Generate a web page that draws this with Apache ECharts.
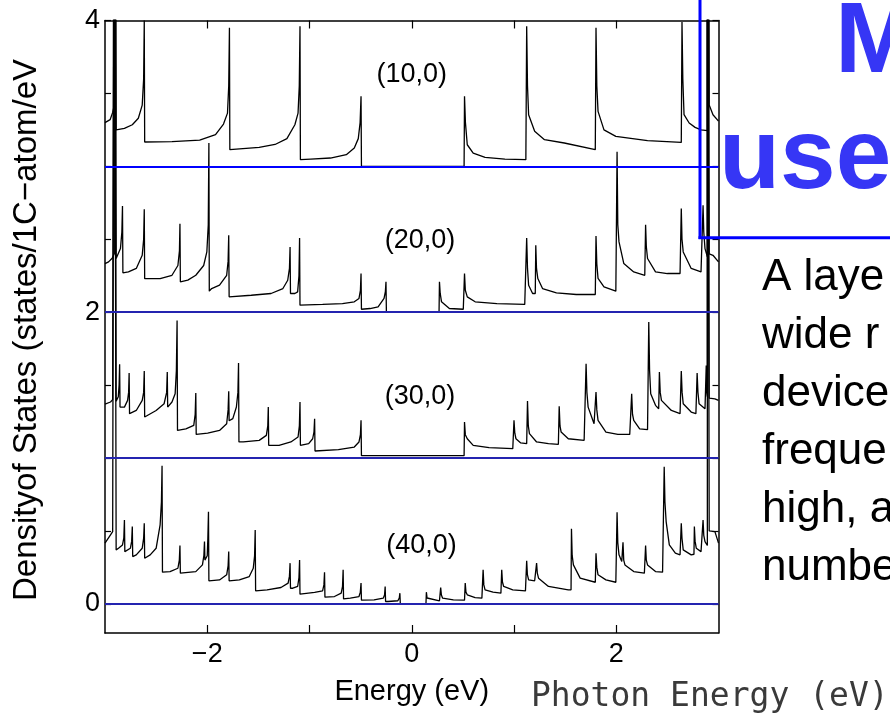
<!DOCTYPE html>
<html><head><meta charset="utf-8">
<script src="https://cdn.jsdelivr.net/npm/echarts@6/dist/echarts.min.js"></script>
<style>html,body{margin:0;padding:0;background:#fff}#c{width:890px;height:721px}</style>
</head><body><div id="c"></div>
<script>
// ---- data (energy eV, density of states per C atom per eV) ----
const tubeNames = ['(10,0)', '(20,0)', '(30,0)', '(40,0)'];
const tubeOffsets = [3, 2, 1, 0];
const baselines = [0, 1, 2, 3];
const xTickLabels = [-2, 0, 2];
const xTicks = [-2, -1, 0, 1, 2];
const yTickLabels = [0, 2, 4];
const yTicks = [0, 0.5, 1, 1.5, 2, 2.5, 3, 3.5, 4];
const labelX = [0.0, 0.08, 0.08, 0.095];
const labelY = [3.63, 2.49, 1.42, 0.40];

const dos10 = [
[-3.0,0.30],[-2.95,0.32],[-2.925,0.37],[-2.909,0.42],[-2.909,6],[-2.891,6],[-2.891,0.25],
[-2.81,0.26],[-2.733,0.285],[-2.674,0.33],[-2.636,0.42],[-2.622,0.6],[-2.616,1.0],[-2.612,0.167],
[-2.345,0.17],[-2.074,0.18],[-1.919,0.217],[-1.841,0.29],[-1.802,0.365],[-1.79,0.55],[-1.783,0.95],[-1.779,0.114],
[-1.492,0.13],[-1.337,0.15],[-1.221,0.19],[-1.143,0.285],[-1.112,0.365],[-1.1,0.55],[-1.093,0.96],[-1.089,0.046],
[-0.988,0.05],[-0.795,0.057],[-0.64,0.08],[-0.562,0.126],[-0.523,0.19],[-0.505,0.3],[-0.496,0.48],[-0.492,0],
[0.512,0],[0.516,0.48],[0.525,0.3],[0.543,0.148],[0.601,0.091],[0.717,0.062],[0.911,0.05],[1.116,0.046],
[1.12,0.046],[1.124,0.96],[1.132,0.55],[1.143,0.354],[1.202,0.24],[1.298,0.183],[1.492,0.16],[1.795,0.114],
[1.798,0.114],[1.802,0.95],[1.81,0.55],[1.822,0.377],[1.88,0.25],[1.996,0.205],[2.306,0.176],[2.636,0.164],
[2.639,0.164],[2.643,0.99],[2.651,0.6],[2.663,0.354],[2.713,0.297],[2.771,0.267],[2.829,0.25],[2.891,0.245],
[2.891,6],[2.909,6],[2.909,0.42],[2.946,0.354],[3.0,0.31]
];

const dos20 = [
[-3.0,0.333],[-2.965,0.345],[-2.93,0.37],[-2.909,0.4],[-2.909,6],[-2.891,6],[-2.891,0.368],[-2.849,0.436],[-2.835,0.55],[-2.829,0.728],[-2.825,0.27],
[-2.771,0.276],[-2.694,0.3],[-2.636,0.39],[-2.622,0.5],[-2.616,0.705],[-2.612,0.23],
[-2.461,0.23],[-2.345,0.253],[-2.287,0.32],[-2.272,0.42],[-2.267,0.607],[-2.263,0.208],
[-2.19,0.22],[-2.112,0.253],[-2.035,0.32],[-2.004,0.413],[-1.99,0.6],[-1.984,1.16],[-1.98,0.144],
[-1.957,0.162],[-1.88,0.185],[-1.81,0.253],[-1.796,0.35],[-1.79,0.527],[-1.786,0.105],
[-1.57,0.116],[-1.376,0.128],[-1.26,0.162],[-1.213,0.219],[-1.196,0.3],[-1.19,0.447],[-1.186,0.128],
[-1.143,0.128],[-1.116,0.139],[-1.103,0.25],[-1.097,0.509],[-1.093,0.048],
[-0.872,0.053],[-0.678,0.059],[-0.562,0.071],[-0.516,0.094],[-0.502,0.15],[-0.496,0.265],[-0.492,0.02],
[-0.407,0.025],[-0.329,0.037],[-0.271,0.094],[-0.258,0.14],[-0.252,0.208],[-0.248,0],
[0.267,0],[0.271,0.208],[0.278,0.13],[0.291,0.071],[0.368,0.025],[0.504,0.02],
[0.512,0.02],[0.516,0.265],[0.524,0.15],[0.543,0.105],[0.62,0.071],[0.833,0.059],[1.105,0.053],
[1.12,0.053],[1.124,0.509],[1.132,0.3],[1.143,0.185],[1.182,0.128],[1.208,0.128],[1.213,0.459],[1.22,0.3],[1.233,0.231],[1.279,0.162],[1.415,0.132],[1.609,0.121],[1.795,0.121],
[1.802,0.523],[1.81,0.33],[1.822,0.231],[1.88,0.174],[1.996,0.144],
[2.004,0.144],[2.008,1.1],[2.015,0.6],[2.027,0.482],[2.074,0.333],[2.171,0.276],[2.279,0.253],
[2.283,0.253],[2.287,0.6],[2.294,0.45],[2.306,0.368],[2.384,0.276],[2.5,0.265],[2.624,0.265],
[2.632,0.265],[2.636,0.71],[2.643,0.5],[2.655,0.413],[2.733,0.3],[2.829,0.276],
[2.845,0.276],[2.849,0.733],[2.856,0.55],[2.868,0.436],[2.891,0.38],[2.891,6],[2.909,6],[2.909,0.4],[2.946,0.39],[3.0,0.345]
];

const dos30 = [
[-3.0,0.37],[-2.946,0.384],[-2.925,0.4],[-2.909,0.41],[-2.909,6],[-2.891,6],[-2.891,0.39],[-2.87,0.42],[-2.862,0.5],[-2.857,0.642],[-2.853,0.349],
[-2.81,0.349],[-2.779,0.395],[-2.769,0.45],[-2.764,0.582],[-2.76,0.304],
[-2.694,0.326],[-2.636,0.395],[-2.622,0.45],[-2.616,0.596],[-2.612,0.281],
[-2.5,0.326],[-2.422,0.372],[-2.397,0.45],[-2.391,0.589],[-2.387,0.349],
[-2.345,0.384],[-2.314,0.441],[-2.302,0.6],[-2.295,0.943],[-2.291,0.189],
[-2.209,0.2],[-2.132,0.224],[-2.118,0.3],[-2.112,0.445],[-2.108,0.162],
[-1.996,0.171],[-1.88,0.189],[-1.81,0.235],[-1.796,0.33],[-1.79,0.457],[-1.786,0.255],
[-1.75,0.27],[-1.715,0.35],[-1.7,0.45],[-1.694,0.651],[-1.69,0.11],
[-1.647,0.11],[-1.492,0.121],[-1.422,0.155],[-1.408,0.22],[-1.403,0.349],[-1.399,0.087],
[-1.298,0.087],[-1.182,0.11],[-1.112,0.144],[-1.099,0.22],[-1.093,0.384],[-1.089,0.087],
[-1.008,0.098],[-0.969,0.132],[-0.956,0.18],[-0.95,0.269],[-0.946,0.048],
[-0.717,0.057],[-0.562,0.075],[-0.516,0.11],[-0.502,0.16],[-0.496,0.258],[-0.492,0.016],
[0.512,0.016],[0.516,0.247],[0.524,0.16],[0.543,0.132],[0.601,0.087],[0.756,0.071],[0.988,0.064],
[0.996,0.064],[1.0,0.258],[1.008,0.17],[1.019,0.132],[1.066,0.103],[1.124,0.098],
[1.128,0.098],[1.132,0.39],[1.14,0.22],[1.151,0.167],[1.221,0.11],[1.337,0.098],[1.434,0.094],
[1.438,0.094],[1.442,0.354],[1.45,0.22],[1.461,0.178],[1.531,0.132],[1.686,0.121],
[1.701,0.121],[1.705,0.646],[1.713,0.45],[1.725,0.349],[1.783,0.235],
[1.798,0.235],[1.802,0.452],[1.81,0.33],[1.822,0.258],[1.899,0.178],[2.016,0.162],[2.132,0.162],
[2.147,0.162],[2.151,0.441],[2.159,0.3],[2.171,0.258],[2.229,0.2],[2.306,0.194],
[2.314,0.194],[2.318,0.932],[2.326,0.6],[2.337,0.441],[2.384,0.361],[2.415,0.338],
[2.418,0.338],[2.422,0.589],[2.43,0.45],[2.442,0.395],[2.539,0.326],[2.624,0.304],
[2.632,0.304],[2.636,0.596],[2.644,0.45],[2.655,0.372],[2.733,0.315],[2.779,0.304],
[2.787,0.304],[2.791,0.582],[2.799,0.45],[2.81,0.372],[2.868,0.338],
[2.876,0.338],[2.88,0.635],[2.885,0.45],[2.891,0.42],[2.891,6],[2.909,6],[2.909,0.41],[2.965,0.406],[3.0,0.395]
];

const dos40 = [
[-3.0,0.416],[-2.946,0.473],[-2.925,0.495],[-2.909,0.5],[-2.909,6],[-2.891,6],[-2.891,0.37],[-2.868,0.381],[-2.829,0.404],[-2.816,0.45],[-2.81,0.575],[-2.806,0.358],
[-2.791,0.358],[-2.752,0.381],[-2.739,0.43],[-2.733,0.53],[-2.729,0.324],
[-2.694,0.336],[-2.636,0.381],[-2.622,0.45],[-2.616,0.553],[-2.612,0.313],
[-2.558,0.336],[-2.5,0.381],[-2.461,0.541],[-2.448,0.7],[-2.442,0.947],[-2.438,0.217],
[-2.364,0.221],[-2.287,0.244],[-2.273,0.3],[-2.267,0.4],[-2.263,0.21],
[-2.112,0.221],[-2.047,0.267],[-2.033,0.33],[-2.027,0.427],[-2.023,0.3],[-2.0,0.33],[-1.994,0.45],[-1.988,0.632],[-1.984,0.158],
[-1.88,0.164],[-1.81,0.199],[-1.796,0.26],[-1.79,0.358],[-1.786,0.158],
[-1.686,0.164],[-1.589,0.187],[-1.55,0.244],[-1.537,0.33],[-1.531,0.507],[-1.527,0.089],
[-1.415,0.096],[-1.279,0.112],[-1.209,0.142],[-1.196,0.19],[-1.19,0.279],[-1.186,0.107],
[-1.163,0.107],[-1.116,0.119],[-1.103,0.18],[-1.097,0.301],[-1.093,0.066],
[-0.95,0.078],[-0.872,0.089],[-0.859,0.13],[-0.853,0.217],[-0.849,0.046],
[-0.756,0.05],[-0.69,0.073],[-0.677,0.12],[-0.671,0.233],[-0.667,0.034],
[-0.601,0.039],[-0.516,0.05],[-0.503,0.08],[-0.496,0.142],[-0.492,0.025],
[-0.368,0.027],[-0.279,0.039],[-0.266,0.06],[-0.26,0.119],[-0.256,0.016],
[-0.233,0.016],[-0.136,0.021],[-0.122,0.04],[-0.116,0.073],[-0.112,0],
[0.139,0],[0.143,0.08],[0.15,0.04],[0.163,0.027],[0.271,0.021],
[0.279,0.021],[0.283,0.112],[0.29,0.06],[0.302,0.039],[0.407,0.027],[0.516,0.025],
[0.519,0.025],[0.523,0.142],[0.53,0.08],[0.543,0.062],[0.62,0.043],[0.686,0.039],
[0.694,0.039],[0.698,0.233],[0.705,0.13],[0.717,0.096],[0.795,0.08],[0.872,0.073],
[0.876,0.073],[0.88,0.233],[0.887,0.15],[0.899,0.119],[0.988,0.096],[1.112,0.089],
[1.12,0.089],[1.124,0.295],[1.131,0.2],[1.143,0.164],[1.202,0.158],
[1.217,0.158],[1.221,0.279],[1.228,0.21],[1.24,0.176],[1.337,0.119],[1.531,0.096],
[1.558,0.096],[1.562,0.514],[1.569,0.33],[1.581,0.267],[1.647,0.176],[1.795,0.148],
[1.798,0.148],[1.802,0.347],[1.81,0.25],[1.822,0.199],[1.899,0.164],[1.996,0.148],
[2.004,0.148],[2.008,0.628],[2.015,0.42],[2.027,0.336],[2.054,0.29],
[2.062,0.29],[2.066,0.422],[2.073,0.3],[2.085,0.267],[2.171,0.221],[2.275,0.21],
[2.283,0.21],[2.287,0.4],[2.294,0.3],[2.306,0.267],[2.384,0.221],[2.453,0.217],
[2.465,0.217],[2.469,0.94],[2.476,0.7],[2.488,0.564],[2.519,0.404],[2.578,0.347],[2.624,0.336],
[2.632,0.336],[2.636,0.553],[2.643,0.45],[2.655,0.37],[2.733,0.336],[2.752,0.34],
[2.76,0.34],[2.764,0.53],[2.771,0.43],[2.783,0.381],[2.829,0.358],
[2.845,0.358],[2.849,0.575],[2.856,0.47],[2.868,0.427],[2.891,0.4],[2.891,6],[2.909,6],[2.909,0.5],[2.965,0.495],[3.0,0.416]
];

const tubeData = [dos10, dos20, dos30, dos40];
const paragraphLines = ['A laye', 'wide r', 'device', 'freque', 'high, a', 'numbe'];

// ---- chart ----
const FONT = '"Liberation Sans", Arial, sans-serif';
const chart = echarts.init(document.getElementById('c'), null, {renderer: 'canvas'});
const minusFmt = v => (v < 0 ? '\u2212' + Math.abs(v) : String(v));

const axisLineStyle = {color: '#000', width: 1.5};
const series = tubeData.map((d, i) => ({
  type: 'line', name: tubeNames[i], xAxisIndex: 0, yAxisIndex: 0,
  data: d.map(p => [p[0], p[1] + tubeOffsets[i]]),
  showSymbol: false, symbol: 'none', clip: true, animation: false,
  lineStyle: {color: '#000', width: 1.3}, z: 3
}));
series.push({
  type: 'line', data: [], xAxisIndex: 0, yAxisIndex: 0, z: 6, animation: false,
  markLine: {
    silent: true, symbol: 'none', animation: false, label: {show: false},
    data: baselines.map(b => ({yAxis: b, lineStyle: {color: b === 3 ? '#0000ff' : '#2424b0', width: 2, type: 'solid'}}))
  }
});
series.push({
  type: 'scatter', xAxisIndex: 0, yAxisIndex: 0, symbolSize: 0, z: 7, animation: false,
  itemStyle: {opacity: 1},
  data: tubeNames.map((n, i) => ({value: [labelX[i], labelY[i]], name: n})),
  label: {show: true, position: 'inside', formatter: p => p.name, color: '#000', opacity: 1, textBorderWidth: 0, fontSize: 27, fontFamily: FONT}
});

const graphics = [
  {type: 'text', x: 27, y: 330, rotation: Math.PI / 2, z: 10,
   style: {text: 'Densityof States (states/1C\u2212atom/eV', fill: '#000', font: '33px ' + FONT, textAlign: 'center', textVerticalAlign: 'middle'}},
  {type: 'line', z: 20, shape: {x1: 700, y1: 0, x2: 700, y2: 239}, style: {stroke: '#0000ff', lineWidth: 3}},
  {type: 'line', z: 20, shape: {x1: 698.5, y1: 237.7, x2: 890, y2: 237.7}, style: {stroke: '#0000ff', lineWidth: 3}},
  {type: 'text', x: 835, y: 44, z: 21, style: {text: 'M', fill: '#3636f5', font: 'bold 100px ' + FONT, textAlign: 'left', textVerticalAlign: 'middle'}},
  {type: 'text', x: 719, y: 160, z: 21, style: {text: 'use', fill: '#3636f5', font: 'bold 100px ' + FONT, textAlign: 'left', textVerticalAlign: 'middle'}},
  {type: 'text', x: 531, y: 697, z: 21, style: {text: 'Photon Energy (eV)', fill: '#3a3a3a', font: '33px "DejaVu Sans Mono", monospace', textAlign: 'left', textVerticalAlign: 'middle'}}
];
paragraphLines.forEach((t, i) => {
  graphics.push({type: 'text', x: 762, y: 278 + 58 * i, z: 21,
    style: {text: t, fill: '#000', font: '44px ' + FONT, textAlign: 'left', textVerticalAlign: 'middle'}});
});

const tickStyle = {color: '#000', width: 1.2};
chart.setOption({
  animation: false,
  backgroundColor: '#fff',
  grid: {left: 105, right: 171.5, top: 20.5, bottom: 88, containLabel: false},
  xAxis: [
    {type: 'value', min: -3, max: 3, position: 'bottom',
     name: 'Energy (eV)', nameLocation: 'middle', nameGap: 44,
     nameTextStyle: {fontSize: 29, color: '#000', fontFamily: FONT},
     axisLine: {show: true, onZero: false, lineStyle: axisLineStyle},
     axisTick: {show: true, inside: true, length: 8, customValues: xTicks, lineStyle: tickStyle},
     axisLabel: {show: true, customValues: xTickLabels, formatter: minusFmt, fontSize: 27, color: '#000', fontFamily: FONT, margin: 8},
     splitLine: {show: false}},
    {type: 'value', min: -3, max: 3, position: 'top',
     axisLine: {show: true, onZero: false, lineStyle: axisLineStyle},
     axisTick: {show: true, inside: true, length: 8, customValues: xTicks, lineStyle: tickStyle},
     axisLabel: {show: false}, splitLine: {show: false}}
  ],
  yAxis: [
    {type: 'value', min: -0.2, max: 4, position: 'left',
     axisLine: {show: true, onZero: false, lineStyle: axisLineStyle},
     axisTick: {show: true, inside: true, length: 6, customValues: yTicks, lineStyle: tickStyle},
     axisLabel: {show: true, customValues: yTickLabels, fontSize: 27, color: '#000', fontFamily: FONT, margin: 5},
     splitLine: {show: false}},
    {type: 'value', min: -0.2, max: 4, position: 'right',
     axisLine: {show: true, onZero: false, lineStyle: axisLineStyle},
     axisTick: {show: true, inside: true, length: 6, customValues: yTicks, lineStyle: tickStyle},
     axisLabel: {show: false}, splitLine: {show: false}}
  ],
  series: series,
  graphic: graphics
});
</script>
</body></html>
